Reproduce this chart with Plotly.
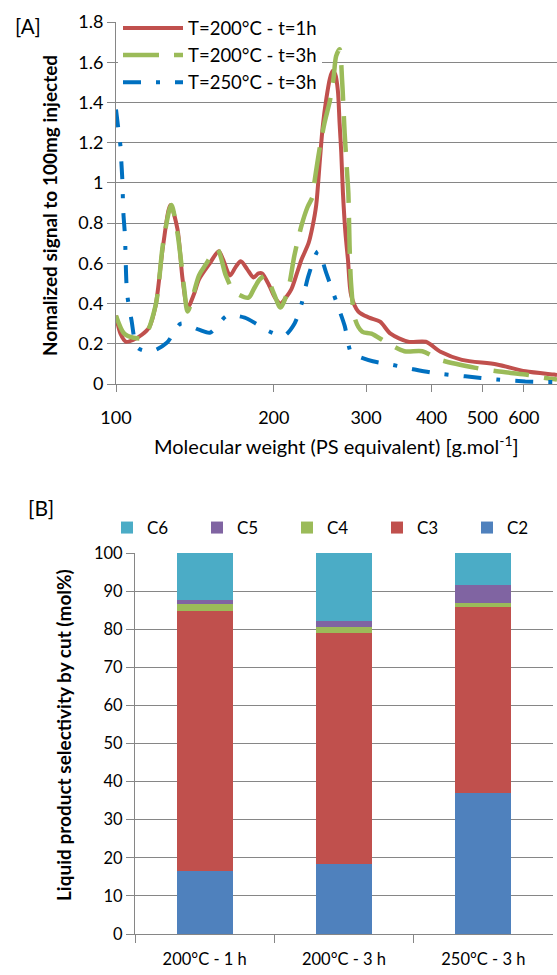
import math
import plotly.graph_objects as go

# ---------------- Data: panel A (GPC traces) ----------------
red_x = [100, 102, 104.5, 108, 112, 115.6, 119, 123, 127, 131, 134, 137, 141, 144, 151, 157, 160, 165, 169, 173,
         178, 183, 187, 190, 196, 201, 206, 211, 216, 222, 226, 233, 237, 241, 245, 248, 252, 256, 259, 262,
         265, 267, 269, 271, 274, 277, 281, 290, 304, 319, 334, 361, 390, 416, 457, 533, 604, 685, 694]
red_y = [0.34, 0.25, 0.21, 0.22, 0.245, 0.28, 0.39, 0.69, 0.89, 0.77, 0.52, 0.38, 0.45, 0.52, 0.60, 0.66, 0.62, 0.54, 0.58, 0.61,
         0.57, 0.53, 0.55, 0.55, 0.49, 0.43, 0.40, 0.43, 0.47, 0.56, 0.62, 0.70, 0.78, 0.89, 1.12, 1.28, 1.42, 1.52, 1.556, 1.54,
         1.46, 1.30, 1.15, 0.95, 0.75, 0.62, 0.44, 0.36, 0.33, 0.31, 0.25, 0.21, 0.21, 0.16, 0.12, 0.097, 0.063, 0.047, 0.045]

green_x = [100, 103.7, 108, 113, 119, 123, 127.5, 131, 135, 137, 144, 148, 156, 162, 168, 179, 183, 188, 193, 200,
           206, 213, 219, 226, 232, 237, 239, 245, 250, 256, 260, 263, 267, 270, 273, 276, 277.5, 279, 281, 286,
           295, 307, 329, 355, 384, 416, 486, 533, 604, 660, 694]
green_y = [0.34, 0.25, 0.23, 0.23, 0.39, 0.70, 0.89, 0.75, 0.47, 0.36, 0.54, 0.59, 0.67, 0.54, 0.46, 0.43, 0.47, 0.52, 0.54, 0.45,
           0.38, 0.47, 0.64, 0.79, 0.88, 0.93, 1.0, 1.18, 1.30, 1.41, 1.52, 1.63, 1.665, 1.51, 1.25, 1.05, 0.95, 0.69, 0.49, 0.32,
           0.26, 0.25, 0.205, 0.163, 0.163, 0.12, 0.08, 0.063, 0.047, 0.03, 0.022]

blue_x = [100, 100.8, 102, 102.4, 102.8, 103.3, 104, 105, 107, 110, 117, 125, 133, 144, 151, 156, 163, 176, 185, 193,
          209, 219, 226, 233, 243, 252, 264, 273, 281, 288, 309, 334, 367, 404, 464, 533, 604, 685, 694]
blue_y = [1.365, 1.29, 1.18, 1.10, 1.02, 0.85, 0.74, 0.45, 0.32, 0.18, 0.163, 0.205, 0.30, 0.27, 0.255, 0.29, 0.34, 0.33, 0.30, 0.27,
          0.24, 0.30, 0.40, 0.54, 0.66, 0.55, 0.40, 0.29, 0.155, 0.14, 0.113, 0.097, 0.075, 0.055, 0.038, 0.022, 0.013, 0.01, 0.01]

series_names = ["T=200°C - t=1h", "T=200°C - t=3h", "T=250°C - t=3h"]
x_tickvals = [100, 200, 300, 400, 500, 600]
y_tickvals = [0, 0.2, 0.4, 0.6, 0.8, 1, 1.2, 1.4, 1.6, 1.8]

# ---------------- Data: panel B (stacked bars) ----------------
conditions = ["200°C - 1 h", "200°C - 3 h", "250°C - 3 h"]
C2 = [16.6, 18.4, 37.0]
C3 = [68.3, 60.7, 48.9]
C4 = [1.7, 1.4, 1.0]
C5 = [1.1, 1.7, 4.6]
C6 = [12.3, 17.8, 8.5]
cut_names = ["C2", "C3", "C4", "C5", "C6"]

W, H = 557, 975
FONT = "Lato"
GRID = "#868686"

fig = go.Figure()

line_specs = [
    (red_x, red_y, "#C0504D", "solid", 4),
    (green_x, green_y, "#9BBB59", "36px,15px", 4.5),
    (blue_x, blue_y, "#0070C0", "18px,15px,4px,15px", 4),
]
for i, ((xs, ys, col, dash, w), name) in enumerate(zip(line_specs, series_names)):
    fig.add_trace(go.Scatter(
        x=xs, y=ys, name=name, mode="lines", legendgroup="g%d" % i,
        line=dict(color=col, width=w, dash=dash, shape="spline", smoothing=0.8),
        xaxis="x", yaxis="y", legend="legend",
    ))

bar_cols = ["#4F81BD", "#C0504D", "#9BBB59", "#8064A2", "#4BACC6"]
for name, vals, col in zip(cut_names, [C2, C3, C4, C5, C6], bar_cols):
    fig.add_trace(go.Bar(
        x=conditions, y=vals, name=name, marker=dict(color=col, line=dict(width=0)),
        xaxis="x2", yaxis="y2", legend="legend2",
    ))

def px_x(p):
    return p / W

def px_y(p):
    return 1 - p / H

def axis_style(size, ticklen):
    return dict(
        showline=True, linecolor=GRID, linewidth=1,
        ticks="outside", tickcolor=GRID, ticklen=ticklen, tickwidth=1,
        tickfont=dict(family=FONT, size=size, color="#000"),
        zeroline=False, automargin=False,
    )

X_LEFT_A, X_RIGHT_A = 116, 557
fig.update_layout(
    width=W, height=H,
    margin=dict(l=0, r=0, t=0, b=0),
    paper_bgcolor="white", plot_bgcolor="white",
    font=dict(family=FONT, size=17, color="#000"),
    barmode="stack", bargap=0.6,
    xaxis=dict(
        type="log", range=[2, math.log10(694)], domain=[px_x(X_LEFT_A), px_x(X_RIGHT_A)], anchor="y",
        tickvals=x_tickvals, ticktext=[str(v) for v in x_tickvals],
        showgrid=False, ticklabelstandoff=10,
        **axis_style(18, 7),
    ),
    yaxis=dict(
        range=[0, 1.8], domain=[px_y(384), px_y(22)], anchor="x",
        tickvals=y_tickvals, ticktext=[("%g" % v) for v in y_tickvals],
        showgrid=True, gridcolor=GRID, gridwidth=1,
        **axis_style(18, 8),
    ),
    xaxis2=dict(
        type="category", domain=[px_x(135), px_x(553)], anchor="y2", range=[-0.5, 2.5],
        tickson="boundaries", showgrid=False, ticklabelstandoff=10,
        **axis_style(16.5, 8),
    ),
    yaxis2=dict(
        range=[0, 100], dtick=10, domain=[px_y(934), px_y(553)], anchor="x2",
        showgrid=True, gridcolor=GRID, gridwidth=1,
        **axis_style(16.5, 8),
    ),
    legend=dict(
        x=px_x(118), y=px_y(9.5), xanchor="left", yanchor="top",
        bgcolor="white", borderwidth=0, itemwidth=60,
        font=dict(family=FONT, size=18.5, color="#000"),
        tracegroupgap=0,
    ),
    legend2=dict(
        orientation="h", x=px_x(107), y=px_y(510), xanchor="left", yanchor="top",
        bgcolor="rgba(0,0,0,0)", traceorder="reversed",
        entrywidth=45, entrywidthmode="pixels",
        font=dict(family=FONT, size=17, color="#000"),
    ),
    annotations=[
        dict(text="[A]", x=px_x(13), y=px_y(26), xref="paper", yref="paper",
             xanchor="left", yanchor="middle", showarrow=False,
             font=dict(family=FONT, size=20.5, color="#000")),
        dict(text="[B]", x=px_x(26), y=px_y(507), xref="paper", yref="paper",
             xanchor="left", yanchor="middle", showarrow=False,
             font=dict(family=FONT, size=21, color="#000")),
        dict(text="Molecular weight (PS equivalent) [g.mol<sup>-1</sup>]",
             x=px_x(336), y=px_y(445), xref="paper", yref="paper",
             xanchor="center", yanchor="middle", showarrow=False,
             font=dict(family=FONT, size=20, color="#000")),
        dict(text="<b>Nomalized signal to 100mg injected</b>", textangle=-90,
             x=px_x(50), y=px_y(206), xref="paper", yref="paper",
             xanchor="center", yanchor="middle", showarrow=False,
             font=dict(family=FONT, size=19, color="#000")),
        dict(text="<b>Liquid product selectivity by cut (mol%)</b>", textangle=-90,
             x=px_x(63), y=px_y(735), xref="paper", yref="paper",
             xanchor="center", yanchor="middle", showarrow=False,
             font=dict(family=FONT, size=19, color="#000")),
    ],
    showlegend=True,
)

fig.write_html("out.html", config={"displayModeBar": False},
               post_script="document.body.style.margin='0';document.body.style.padding='0';")
